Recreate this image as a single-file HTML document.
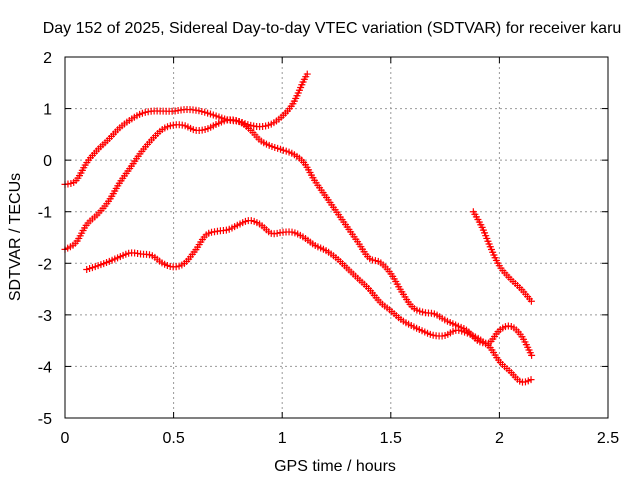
<!DOCTYPE html>
<html><head><meta charset="utf-8"><style>
body{margin:0;background:#fff}
svg{display:block;font-family:"Liberation Sans",sans-serif;font-size:16px}
</style></head><body>
<svg id="chart" width="640" height="480">
<text x="332" y="33" text-anchor="middle">Day 152 of 2025, Sidereal Day-to-day VTEC variation (SDTVAR) for receiver karu</text>
<text x="335" y="471" text-anchor="middle">GPS time / hours</text>
<text transform="translate(20,237) rotate(-90)" text-anchor="middle">SDTVAR / TECUs</text>
<g id="grid"></g><g id="ticks"></g><g id="series"></g>
<rect x="65" y="57" width="543" height="361" fill="none" stroke="#000" stroke-width="1"/>
</svg>
<script>
const xTicks=[0,0.5,1,1.5,2,2.5];
const xTickLabels=["0","0.5","1","1.5","2","2.5"];
const yTicks=[-5,-4,-3,-2,-1,0,1,2];
const yTickLabels=["-5","-4","-3","-2","-1","0","1","2"];
const seriesAx=[0,0.05,0.1,0.15,0.2,0.25,0.3,0.35,0.4,0.45,0.5,0.55,0.6,0.65,0.7,0.75,0.8,0.85,0.9,0.95,1.0,1.05,1.1,1.12];
const seriesAy=[-0.47,-0.4,-0.05,0.2,0.4,0.62,0.78,0.9,0.95,0.95,0.95,0.98,0.97,0.92,0.85,0.78,0.75,0.68,0.65,0.7,0.85,1.1,1.55,1.7];
const seriesBx=[0,0.05,0.1,0.15,0.2,0.25,0.3,0.35,0.4,0.45,0.5,0.55,0.6,0.65,0.7,0.75,0.8,0.85,0.9,0.95,1.0,1.05,1.1,1.15,1.2,1.25,1.3,1.35,1.4,1.45,1.5,1.55,1.6,1.65,1.7,1.75,1.8,1.85,1.9,1.95,2.0,2.05,2.1,2.15];
const seriesBy=[-1.73,-1.6,-1.25,-1.05,-0.8,-0.45,-0.15,0.15,0.4,0.6,0.68,0.67,0.58,0.6,0.7,0.78,0.75,0.6,0.38,0.27,0.2,0.12,-0.05,-0.4,-0.7,-1.0,-1.3,-1.6,-1.9,-1.98,-2.2,-2.55,-2.85,-2.95,-2.98,-3.1,-3.2,-3.3,-3.5,-3.6,-3.9,-4.1,-4.3,-4.25];
const seriesCx=[0.1,0.15,0.2,0.25,0.3,0.35,0.4,0.45,0.5,0.55,0.6,0.65,0.7,0.75,0.8,0.85,0.9,0.95,1.0,1.05,1.1,1.15,1.2,1.25,1.3,1.35,1.4,1.45,1.5,1.55,1.6,1.65,1.7,1.75,1.8,1.85,1.9,1.95,2.0,2.05,2.1,2.15];
const seriesCy=[-2.12,-2.05,-1.97,-1.88,-1.8,-1.82,-1.85,-2.0,-2.07,-2.0,-1.75,-1.45,-1.38,-1.35,-1.25,-1.17,-1.25,-1.42,-1.4,-1.4,-1.5,-1.65,-1.75,-1.9,-2.1,-2.3,-2.5,-2.75,-2.92,-3.1,-3.22,-3.32,-3.4,-3.4,-3.3,-3.35,-3.45,-3.55,-3.3,-3.22,-3.4,-3.8];
const seriesDx=[1.88,1.92,1.96,2.0,2.05,2.1,2.15];
const seriesDy=[-1.0,-1.3,-1.7,-2.05,-2.3,-2.5,-2.75];

const NS="http://www.w3.org/2000/svg";
const X=v=>65+v/2.5*543;
const Y=v=>57+(2-v)/7*361;
function mk(tag,attrs,parent){const e=document.createElementNS(NS,tag);for(const k in attrs)e.setAttribute(k,attrs[k]);parent.appendChild(e);return e;}
const grid=document.getElementById('grid'),ticks=document.getElementById('ticks'),ser=document.getElementById('series');
xTicks.forEach((t,i)=>{
  const x=X(t);
  if(t>0&&t<2.5){const g=mk('line',{x1:x,x2:x,y1:57,y2:418,stroke:'#999','stroke-dasharray':'2,3'},grid);
  
  }
  mk('line',{x1:x,x2:x,y1:418,y2:412,stroke:'#000'},ticks);
  mk('line',{x1:x,x2:x,y1:57,y2:63,stroke:'#000'},ticks);
  const l=mk('text',{x:x,y:443,'text-anchor':'middle'},ticks);l.textContent=xTickLabels[i];
  
  
});
yTicks.forEach((t,i)=>{
  const y=Y(t);
  if(t>-5&&t<2){const g=mk('line',{x1:65,x2:608,y1:y,y2:y,stroke:'#999','stroke-dasharray':'2,3'},grid);
  
  }
  mk('line',{x1:65,x2:71,y1:y,y2:y,stroke:'#000'},ticks);
  mk('line',{x1:608,x2:602,y1:y,y2:y,stroke:'#000'},ticks);
  const l=mk('text',{x:52,y:y+6,'text-anchor':'end'},ticks);l.textContent=yTickLabels[i];
  
  
});
function pathD(xs,ys){
  const p=xs.map((x,i)=>[X(x),Y(ys[i])]);
  let d='M'+p[0][0]+','+p[0][1];
  for(let i=0;i<p.length-1;i++){
    const p0=p[Math.max(0,i-1)],p1=p[i],p2=p[i+1],p3=p[Math.min(p.length-1,i+2)];
    const c1=[p1[0]+(p2[0]-p0[0])/6,p1[1]+(p2[1]-p0[1])/6];
    const c2=[p2[0]-(p3[0]-p1[0])/6,p2[1]-(p3[1]-p1[1])/6];
    d+=' C'+c1+' '+c2+' '+p2;
  }
  return d;
}
function drawSeries(xs,ys,name){
  const g=mk('g',{},ser);
  
  
  const path=mk('path',{d:pathD(xs,ys),fill:'none',stroke:'none'},g);
  const L=path.getTotalLength();
  let d='';
  for(let s=0;s<=L;s+=3){const pt=path.getPointAtLength(s);
    d+='M'+(pt.x-3.5)+','+pt.y+'h7M'+pt.x+','+(pt.y-3.5)+'v7';}
  mk('path',{d:d,stroke:'#f00','stroke-width':1.2,fill:'none'},g);
}
drawSeries(seriesAx,seriesAy,'series-a');
drawSeries(seriesBx,seriesBy,'series-b');
drawSeries(seriesCx,seriesCy,'series-c');
drawSeries(seriesDx,seriesDy,'series-d');
</script>
</body></html>
